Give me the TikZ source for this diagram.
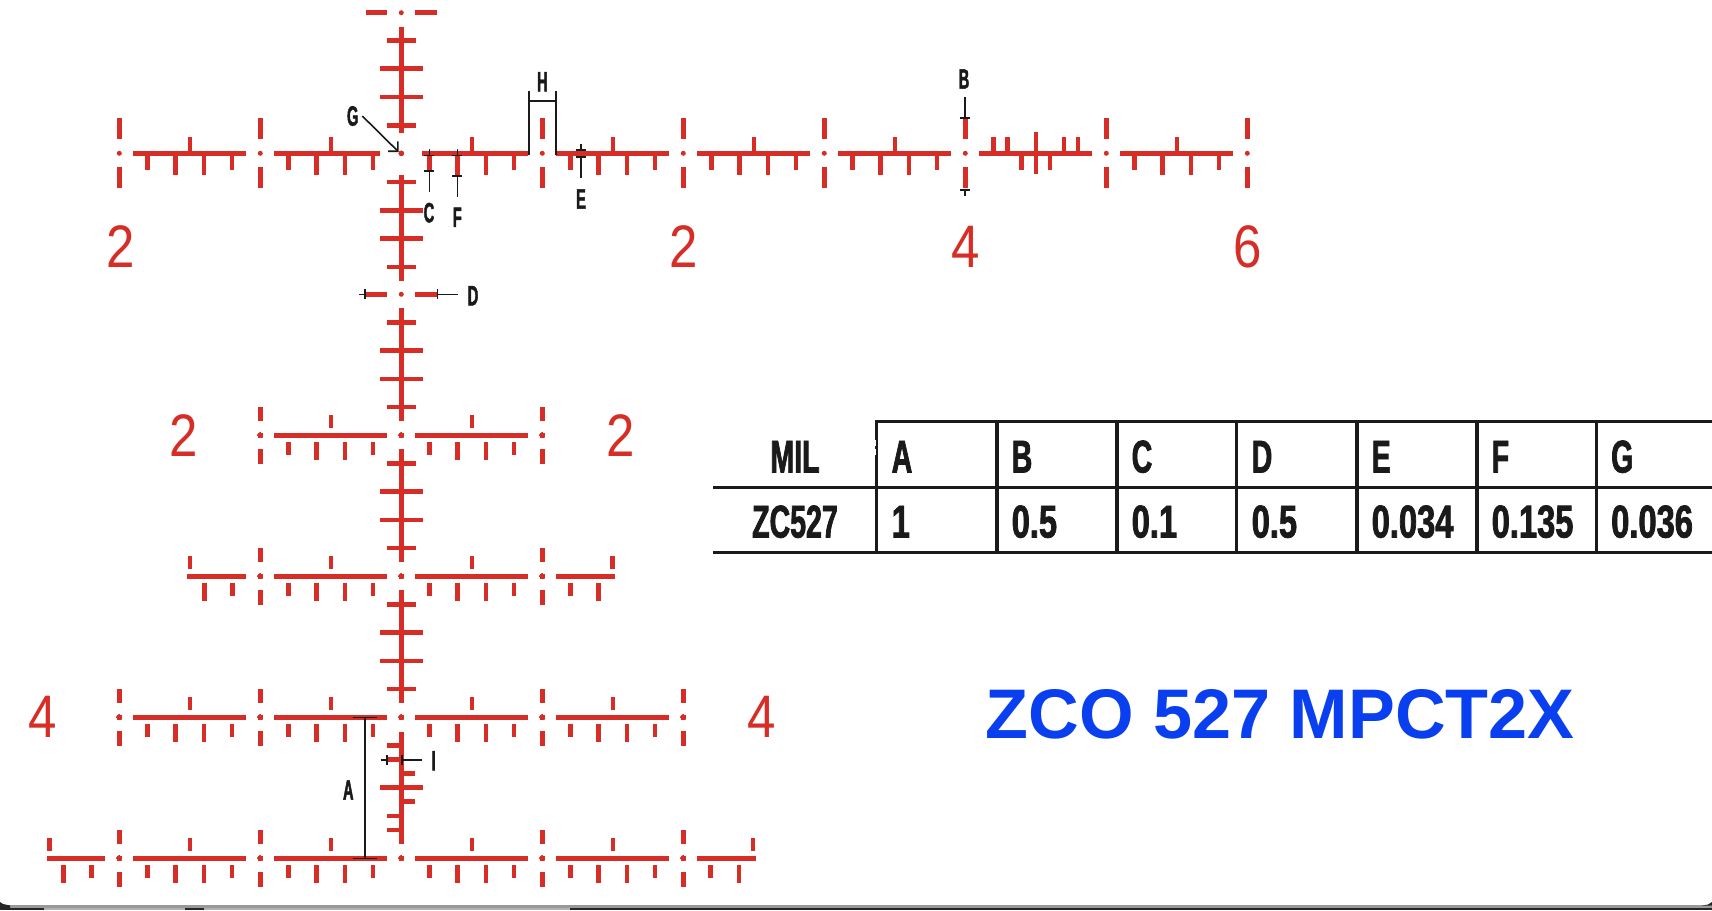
\documentclass[tikz,border=0pt]{standalone}
\usepackage{fontspec}
\usetikzlibrary{arrows.meta}
\newfontfamily\capsfont[FakeStretch=0.62, BoldFeatures={FakeBold=1.6}]{Liberation Sans}
\newfontfamily\valfont[FakeStretch=0.71, BoldFeatures={FakeBold=1.6}]{Liberation Sans}
\newfontfamily\notefont[FakeStretch=0.52, BoldFeatures={FakeBold=1.6}]{Liberation Sans}
\newfontfamily\numfont[FakeStretch=0.85]{Liberation Sans}
\setmainfont{Liberation Sans}
\definecolor{retred}{HTML}{D62E27}
\definecolor{inkblack}{HTML}{1A1A1A}
\definecolor{titleblue}{HTML}{0A3FF0}

\tikzset{
	barline/.style = {draw=retred, line width=4.7pt},
	tickmark/.style = {draw=retred, line width=4.6pt},
	leader/.style = {draw=inkblack, line width=1.6pt},
	gridline/.style = {draw=inkblack, line width=3.2pt},
	note/.style = {text=inkblack, inner sep=0pt, font=\notefont\bfseries\fontsize{28}{28}\selectfont},
	cell/.style = {text=inkblack, inner sep=0pt, font=\capsfont\bfseries\fontsize{46}{46}\selectfont},
	valcell/.style = {text=inkblack, inner sep=0pt, font=\valfont\bfseries\fontsize{46}{46}\selectfont},
	rangenum/.style = {text=retred, inner sep=0pt, font=\numfont\fontsize{60}{60}\selectfont},
}

% one division to the right of a dot: bar, one tick above, four below
\newcommand{\divbar}[2]{
	\draw [barline] (#1+14,#2) -- (#1+127,#2);
	\draw [tickmark] (#1+70.5,#2-20) -- (#1+70.5,#2-7);
	\foreach \dx/\len in {28.2/20, 56.4/25, 84.6/25, 112.8/20}
		\draw [tickmark] (#1+\dx,#2+7) -- (#1+\dx,#2+\len);
}
% dot with its two upright dashes, third argument is how far they reach
\newcommand{\dashdot}[3]{
	\fill [retred] (#1,#2) circle (2.5pt);
	\draw [tickmark] (#1,#2-#3) -- (#1,#2-14);
	\draw [tickmark] (#1,#2+14) -- (#1,#2+#3);
}
% stretch of the upright post going down from a row
\newcommand{\postpart}[1]{
	\draw [barline] (401.3,#1+14) -- (401.3,#1+127);
	\foreach \dy/\wid in {28.2/14.3, 56.4/21.3, 84.6/21.3, 112.8/14.3}
		\draw [tickmark] (401.3-\wid,#1+\dy) -- (401.3+\wid,#1+\dy);
}

\begin{document}
\begin{tikzpicture}[x=1pt, y=-1pt]
	\useasboundingbox (0,0) rectangle (1712,910);
	\fill [white] (0,0) rectangle (1712,910);

	% Bottom strip of the screenshot
	\fill [black!85] (0,908) rectangle (1712,910);
	\fill [black!40] (0,905) rectangle (1712,908);
	\fill [black!30] (44,908) rectangle (185,910);
	\fill [black!30] (204,908) rectangle (570,910);
	\fill [black!85] (0,902) -- (0,908) -- (10,908) -- (10,905.5) -- (3,904) -- cycle;
	\fill [black!85] (1712,902) -- (1712,905.5) -- (1702,905.5) -- (1708,904.5) -- cycle;

	% Posts
	\fill [retred] (401.3,12.7) circle (2.5pt);
	\draw [tickmark] (366,12.7) -- (387.3,12.7);
	\draw [tickmark] (415.3,12.7) -- (436.6,12.7);
	\draw [barline] (401.3,26.7) -- (401.3,132.7);
	\foreach \yy/\wid in {40.3/14.3, 68.7/21.3, 97/21.3, 125.3/14.3}
		\draw [tickmark] (401.3-\wid,\yy) -- (401.3+\wid,\yy);
	\draw [barline] (401.3,175) -- (401.3,280.7);
	\foreach \yy/\wid in {182/14.3, 210.3/21.3, 238.7/21.3, 267/14.3}
		\draw [tickmark] (401.3-\wid,\yy) -- (401.3+\wid,\yy);
	\fill [retred] (401.3,294.3) circle (2.5pt);
	\draw [tickmark] (366,294.3) -- (387.3,294.3);
	\draw [tickmark] (415.3,294.3) -- (436.6,294.3);
	\postpart{294.3}
	\postpart{435.3}
	\postpart{576.3}
	\draw [barline] (401.3,731.7) -- (401.3,844);
	\foreach \yy/\xa/\xb in {745.3/387.3/401.3, 759.7/387.3/401.3, 773.7/401.3/415.3,
		787.7/380/422.7, 801.7/401.3/415.3, 816/387.3/401.3, 830/387.3/401.3}
		\draw [tickmark] (\xa,\yy) -- (\xb,\yy);

	% Top row
	\foreach \cx in {119.3, 260.3, 542.3, 683.3, 824.3, 965.3, 1106.3, 1247.3}
		\dashdot{\cx}{153.3}{35}
	\fill [retred] (401.3,153.3) circle (2.5pt);
	\foreach \cx/\from/\upto in {119.3/14/127, 260.3/14/120, 401.3/21/127, 542.3/14/127,
		683.3/14/127, 824.3/14/127, 1106.3/14/127}
		\draw [barline] (\cx+\from,153.3) -- (\cx+\upto,153.3);
	\foreach \cx in {119.3, 260.3, 401.3, 542.3, 683.3, 824.3, 1106.3}{
		\draw [tickmark] (\cx+70.5,153.3) -- (\cx+70.5,137);
		\foreach \dx/\len in {28.2/16.7, 56.4/21.7, 84.6/21.7, 112.8/16.7}
			\draw [tickmark] (\cx+\dx,153.3) -- (\cx+\dx,153.3+\len);
	}
	\draw [barline] (965.3+14,153.3) -- (965.3+127,153.3);
	\foreach \dx in {28.2, 42.3, 98.7, 112.8}
		\draw [tickmark] (965.3+\dx,153.3) -- (965.3+\dx,137);
	\draw [tickmark] (965.3+70.5,153.3-21) -- (965.3+70.5,153.3+21);
	\foreach \dx in {56.4, 84.6}
		\draw [tickmark] (965.3+\dx,153.3) -- (965.3+\dx,153.3+16.7);

	% Lower rows
	\foreach \cx in {260.3, 401.3}
		\divbar{\cx}{435.3}
	\foreach \cx in {260.3, 401.3}
		\divbar{\cx}{576.3}
	\foreach \cx in {119.3, 260.3, 401.3, 542.3}
		\divbar{\cx}{717.3}
	\foreach \cx in {119.3, 260.3, 401.3, 542.3}
		\divbar{\cx}{858.3}
	\foreach \cx in {260.3, 542.3}{
		\dashdot{\cx}{435.3}{28.3}
		\dashdot{\cx}{576.3}{28.3}
	}
	\foreach \cx in {119.3, 260.3, 542.3, 683.3}{
		\dashdot{\cx}{717.3}{28.3}
		\dashdot{\cx}{858.3}{28.3}
	}
	\foreach \yy in {435.3, 576.3, 717.3, 858.3}
		\fill [retred] (401.3,\yy) circle (2.5pt);

	% Short ends
	\draw [barline] (187.3,576.3) -- (246.3,576.3);
	\draw [tickmark] (190,556.3) -- (190,569.3);
	\draw [tickmark] (204.3,583.3) -- (204.3,601.3);
	\draw [tickmark] (232.3,583.3) -- (232.3,596.3);
	\draw [barline] (556.3,576.3) -- (615.3,576.3);
	\draw [tickmark] (612.7,556.3) -- (612.7,569.3);
	\draw [tickmark] (570.3,583.3) -- (570.3,596.3);
	\draw [tickmark] (598.3,583.3) -- (598.3,601.3);
	\draw [barline] (47,858.3) -- (105.3,858.3);
	\draw [tickmark] (49.5,838.3) -- (49.5,851.3);
	\draw [tickmark] (63.3,865.3) -- (63.3,883.3);
	\draw [tickmark] (91.7,865.3) -- (91.7,878.3);
	\draw [barline] (697.3,858.3) -- (756,858.3);
	\draw [tickmark] (753,838.3) -- (753,851.3);
	\draw [tickmark] (710.7,865.3) -- (710.7,878.3);
	\draw [tickmark] (739,865.3) -- (739,883.3);

	% Range numbers
	\node [rangenum] (numA) at (121,247) {2};
	\node [rangenum] (numB) at (684,247) {2};
	\node [rangenum] (numC) at (965.5,247) {4};
	\node [rangenum] (numD) at (1248,247) {6};
	\node [rangenum] (numE) at (184,436) {2};
	\node [rangenum] (numF) at (621,436) {2};
	\node [rangenum] (numG) at (42.5,717) {4};
	\node [rangenum] (numH) at (762,717) {4};

	% Notes
	\node [note] (noteA) at (348.3,790) {A};
	\node [note] (noteB) at (964,79) {B};
	\node [note] (noteC) at (429,212.7) {C};
	\node [note] (noteD) at (473,295.7) {D};
	\node [note] (noteE) at (581,199) {E};
	\node [note] (noteF) at (457.3,217.3) {F};
	\node [note] (noteG) at (352.7,116) {G};
	\node [note] (noteH) at (542.3,81.7) {H};
	\node [note] (noteI) at (433.7,760.7) {I};

	% Leaders
	\foreach \nm/\lx/\ca/\cb/\ex in {C/429.3/155.3/171/191.7, F/457.3/155.3/175.7/196.7, E/581/150/156.7/177.7}{
		\coordinate (capT\nm) at (\lx,\ca);
		\coordinate (capB\nm) at (\lx,\cb);
		\coordinate (end\nm) at (\lx,\ex);
		\draw [leader] (capT\nm) -- ++(0,-6);
		\draw [leader] ([xshift=-5pt]capT\nm) -- ([xshift=5pt]capT\nm);
		\draw [leader] ([xshift=-5pt]capB\nm) -- ([xshift=5pt]capB\nm);
		\draw [leader] (capB\nm) -- (end\nm);
	}
	\coordinate (endG) at (362.3,116);
	\coordinate (tipG) at (398.7,152);
	\draw [leader, -{Straight Barb[length=7pt, width=14pt]}] (endG) -- (tipG);
	\coordinate (hleft) at (529,155.3);
	\coordinate (hright) at (555.7,155.3);
	\draw [leader] (hleft) -- (529,91);
	\draw [leader] (hright) -- (555.7,91);
	\draw [leader] (529,100.7) -- (555.7,100.7);
	\draw [leader] (359.3,294.3) -- (365,294.3);
	\draw [leader] (365,289.3) -- (365,299.3);
	\draw [leader] (437.3,289.3) -- (437.3,299.3);
	\draw [leader] (437.3,294.3) -- (458.3,294.3);
	\draw [leader] (964.7,97) -- (964.7,117.7);
	\draw [leader] (959.7,117.7) -- (969.7,117.7);
	\draw [leader] (959.7,190) -- (969.7,190);
	\draw [leader] (964.7,190) -- (964.7,195.7);
	\draw [leader] (364.7,717.3) -- (364.7,858.3);
	\draw [leader] (353.3,717.3) -- (376.7,717.3);
	\draw [leader] (353.3,858.3) -- (376.7,858.3);
	\draw [leader] (380.7,759.7) -- (386.7,759.7);
	\draw [leader] (386.7,754.7) -- (386.7,764.7);
	\draw [leader] (401.7,754.7) -- (401.7,764.7);
	\draw [leader] (401.7,759.7) -- (422.3,759.7);

	% Table
	\draw [gridline] (876.2,421.7) -- (1712,421.7);
	\draw [gridline] (713,487.3) -- (1712,487.3);
	\draw [gridline] (713,552.7) -- (1712,552.7);
	\foreach \cx in {876.2, 997, 1117, 1236.5, 1357, 1477, 1596.7}
		\draw [gridline] (\cx,420) -- (\cx,554);
	\draw [white, line width=1pt, dash pattern=on 6pt off 3pt] (875,440) -- (875,457);
	\node [cell] (headMil) at (795,456.7) {MIL};
	\node [cell] (rowZc) at (795,521.7) {ZC527};
	\foreach \nm/\cx/\ha/\va in {a/891.5/A/1, b/1011.5/B/0.5, c/1131.5/C/0.1, d/1251.5/D/0.5,
		e/1371.5/E/0.034, f/1491.5/F/0.135, g/1611/G/0.036}{
		\node [cell, anchor=west] (head\nm) at (\cx,456.7) {\ha};
		\node [valcell, anchor=west] (val\nm) at (\cx,521.7) {\va};
	}

	% Title
	\node [text=titleblue, inner sep=0pt, font=\bfseries\fontsize{70.2}{70.2}\selectfont] (title) at (1280,714) {ZCO 527 MPCT2X};
\end{tikzpicture}
\end{document}
